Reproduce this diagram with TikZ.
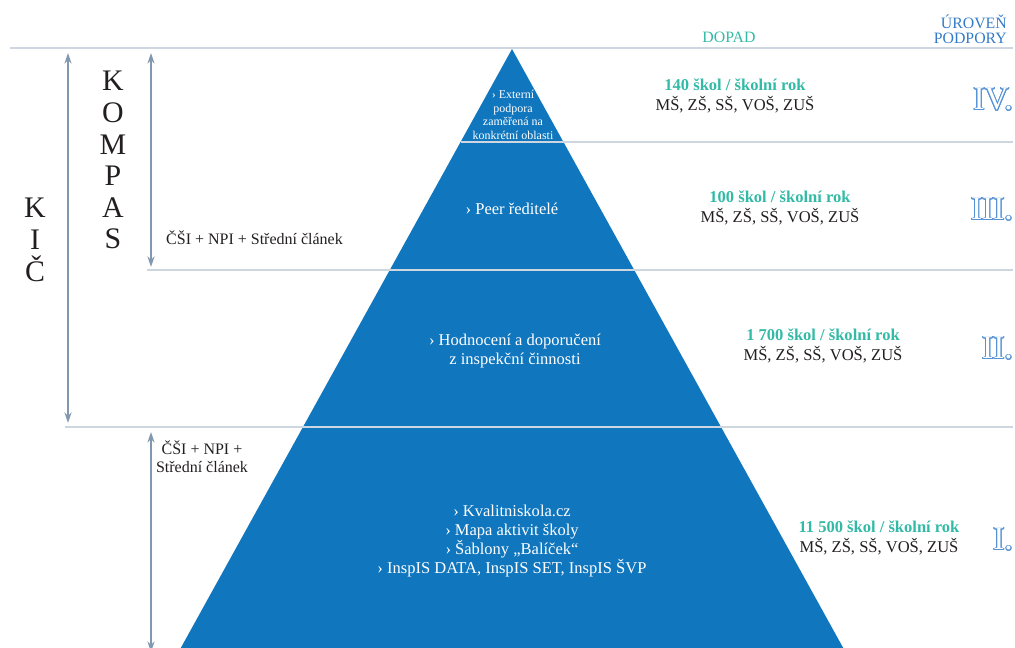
\documentclass[tikz,border=0pt]{standalone}
\usepackage{fontspec}
\setmainfont{Liberation Serif}
\usepackage{contour}
\usetikzlibrary{arrows.meta}
\definecolor{pyrblue}{RGB}{16,118,190}
\definecolor{rulegray}{RGB}{206,215,223}
\definecolor{arrowgray}{RGB}{130,152,175}
\definecolor{dopadteal}{RGB}{50,186,166}
\definecolor{levelblue}{RGB}{52,122,200}
\definecolor{numblue}{RGB}{86,146,212}
\definecolor{inkdark}{RGB}{35,31,32}
\contourlength{0.55pt}
\contournumber{24}
\newcommand{\levelnum}[1]{\contour{numblue}{\textcolor{white}{#1}}}
\begin{document}
\begin{tikzpicture}[x=0.02cm,y=-0.02cm,declare function={ax=512; ay=49; s=0.553; by=648;},
	rule/.style={rulegray,line width=1.7pt},
	spanarrow/.style={arrowgray,line width=1.1pt,{Stealth[length=6pt,width=4pt]}-{Stealth[length=6pt,width=4pt]}},
	bigletter/.style={inkdark,font=\fontsize{17}{17}\selectfont,anchor=base},
	inpyr/.style={text=white,font=\fontsize{9.4}{10.8}\selectfont,align=center},
	smalltext/.style={inkdark,font=\fontsize{9.1}{10.4}\selectfont,align=center},
	impact/.style={align=center,font=\fontsize{9.4}{11.3}\selectfont,text=inkdark},
	level/.style={font=\fontsize{19}{19}\selectfont,anchor=base east}]
			\useasboundingbox (0,0) rectangle (1015,648);
			\path
			(ax,ay) coordinate (apex)
			({ax-s*(by-ay)},by) coordinate (baseL)
			({ax+s*(by-ay)},by) coordinate (baseR)
			(10,48) coordinate (r0L)
			({ax-s*(142-ay)},142) coordinate (r1L)
			(147,270) coordinate (r2L)
			(65,427) coordinate (r3L)
			(1013,48) coordinate (r0R)
			(1013,142) coordinate (r1R)
			(1013,270) coordinate (r2R)
			(1013,427) coordinate (r3R)
			(68,53) coordinate (kicTop)
			(68,423) coordinate (kicBot)
			(151,53) coordinate (kompasTop)
			(151,267) coordinate (kompasBot)
			(151,432) coordinate (lowTop)
			(151,652) coordinate (lowBot);
			
			\fill[pyrblue] (baseL)--(apex)--(baseR)--cycle;
			
			\draw[rule] (r0L)--(r0R);
			\draw[rule] (r1L)--(r1R);
			\draw[rule] (r2L)--(r2R);
			\draw[rule] (r3L)--(r3R);
			
			\draw[spanarrow] (kicTop)--(kicBot);
			\draw[spanarrow] (kompasTop)--(kompasBot);
			\draw[spanarrow] (lowTop)--(lowBot);
			
			\foreach \ch [count=\i] in {K,I,Č}
				\node[bigletter] (kic\i) at (35,{218+32*(\i-1)}) {\ch};
			\foreach \ch [count=\i] in {K,O,M,P,A,S}
				\node[bigletter] (kompas\i) at (113,{91+31.6*(\i-1)}) {\ch};
			
			\node[smalltext,anchor=base west] (orgUp) at (160,245) {ČŠI + NPI + Střední článek};
			\node[smalltext] (orgLow) at (202,457) {ČŠI + NPI +\\Střední článek};
			
			\node[inpyr,font=\fontsize{6.8}{7.7}\selectfont] (pyr4) at (513,115) {› Externí\\podpora\\zaměřená na\\konkrétní oblasti};
			\node[inpyr] (pyr3) at (512,209) {› Peer ředitelé};
			\node[inpyr] (pyr2) at (515,351) {› Hodnocení a doporučení\\z inspekční činnosti};
			\node[inpyr] (pyr1) at (512,541) {› Kvalitniskola.cz\\› Mapa aktivit školy\\› Šablony „Balíček“\\› InspIS DATA, InspIS SET, InspIS ŠVP};
			
			\node[dopadteal,font=\fontsize{9}{9}\selectfont,anchor=base] (dopad) at (729,43) {DOPAD};
			\node[levelblue,font=\fontsize{9}{8.6}\selectfont,align=right,anchor=base east] (uroven) at (1013,44) {ÚROVEŇ\\PODPORY};
			
			\node[impact] (imp4) at (735,96) {\textcolor{dopadteal}{\bfseries 140 škol / školní rok}\\MŠ, ZŠ, SŠ, VOŠ, ZUŠ};
			\node[impact] (imp3) at (780,208) {\textcolor{dopadteal}{\bfseries 100 škol / školní rok}\\MŠ, ZŠ, SŠ, VOŠ, ZUŠ};
			\node[impact] (imp2) at (823,346) {\textcolor{dopadteal}{\bfseries 1 700 škol / školní rok}\\MŠ, ZŠ, SŠ, VOŠ, ZUŠ};
			\node[impact] (imp1) at (879,538) {\textcolor{dopadteal}{\bfseries 11 500 škol / školní rok}\\MŠ, ZŠ, SŠ, VOŠ, ZUŠ};
			
			\node[level] (lev4) at (1019,110) {\levelnum{IV.}};
			\node[level] (lev3) at (1019,220) {\levelnum{III.}};
			\node[level] (lev2) at (1019,359) {\levelnum{II.}};
			\node[level] (lev1) at (1019,550) {\levelnum{I.}};
		\end{tikzpicture}
\end{document}
